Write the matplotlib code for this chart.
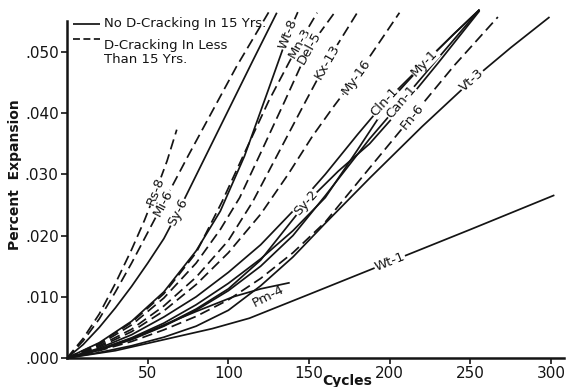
import numpy as np
import matplotlib
matplotlib.use("Agg")
import matplotlib.pyplot as plt
from matplotlib.lines import Line2D

# Expansion (%) versus freeze-thaw cycles for each aggregate source
rs8_x = [0, 10, 20, 30, 40, 48, 55, 62, 68]
rs8_y = [0, 0.0032, 0.0072, 0.0122, 0.0177, 0.0225, 0.0272, 0.0322, 0.0373]

mi6_x = [0, 10, 20, 30, 40, 50, 60, 75, 90, 105, 125]
mi6_y = [0, 0.0028, 0.0064, 0.0108, 0.0155, 0.0205, 0.0255, 0.0330, 0.0403, 0.0476, 0.0565]

sy6_x = [0, 10, 20, 30, 40, 50, 60, 70, 85, 100, 115, 130]
sy6_y = [0, 0.0022, 0.0050, 0.0082, 0.0117, 0.0155, 0.0195, 0.0245, 0.0325, 0.0405, 0.0485, 0.0564]

wt8_x = [0, 20, 40, 60, 80, 95, 110, 125, 137, 143]
wt8_y = [0, 0.0025, 0.0060, 0.0108, 0.0175, 0.0240, 0.0330, 0.0440, 0.0529, 0.0565]

mn3_x = [0, 20, 40, 60, 80, 96, 110, 125, 144, 155]
mn3_y = [0, 0.0024, 0.0058, 0.0105, 0.0172, 0.0255, 0.0335, 0.0420, 0.0515, 0.0564]

del5_x = [0, 20, 40, 60, 80, 95, 107, 120, 135, 150, 166]
del5_y = [0, 0.0022, 0.0054, 0.0098, 0.0155, 0.0210, 0.0262, 0.0335, 0.0420, 0.0507, 0.0565]

kx13_x = [0, 20, 40, 60, 80, 100, 115, 132, 148, 161, 181]
kx13_y = [0, 0.0020, 0.0047, 0.0085, 0.0132, 0.0192, 0.0255, 0.0340, 0.0420, 0.0484, 0.0569]

my16_x = [0, 20, 40, 60, 80, 100, 120, 137, 152, 165, 179, 206]
my16_y = [0, 0.0018, 0.0043, 0.0077, 0.0120, 0.0172, 0.0235, 0.0300, 0.0362, 0.0410, 0.0459, 0.0564]

cln1_x = [0, 20, 40, 60, 80, 100, 120, 140, 160, 180, 197, 221.5, 240, 255.6]
cln1_y = [0, 0.0016, 0.0038, 0.0067, 0.0100, 0.0140, 0.0185, 0.0240, 0.0300, 0.0365, 0.0418, 0.0482, 0.0530, 0.0569]

my1_x = [0, 20, 40, 60, 80, 100, 120, 140, 160, 180, 200, 221.5, 240, 255.6]
my1_y = [0, 0.0014, 0.0033, 0.0057, 0.0087, 0.0122, 0.0162, 0.0208, 0.0262, 0.0340, 0.0420, 0.0482, 0.0530, 0.0569]

sy2_x = [0, 20, 40, 60, 80, 100, 120, 148, 168, 187.5, 207, 230, 255.6]
sy2_y = [0, 0.0013, 0.0031, 0.0053, 0.0080, 0.0113, 0.0160, 0.0253, 0.0305, 0.0350, 0.0408, 0.0482, 0.0567]

can1_x = [0, 20, 40, 60, 80, 100, 120, 140, 160, 187.5, 207, 230, 255.6]
can1_y = [0, 0.0013, 0.0030, 0.0052, 0.0078, 0.0110, 0.0150, 0.0200, 0.0265, 0.0358, 0.0418, 0.0490, 0.0569]

fn6_x = [0, 20, 40, 60, 80, 100, 120, 140, 160, 188, 214, 240, 267]
fn6_y = [0, 0.0012, 0.0027, 0.0046, 0.0068, 0.0095, 0.0130, 0.0172, 0.0222, 0.0312, 0.0395, 0.0478, 0.0557]

vt3_x = [0, 20, 40, 60, 80, 100, 120, 140, 160, 188, 220, 251, 275, 299]
vt3_y = [0, 0.0009, 0.0020, 0.0034, 0.0052, 0.0078, 0.0118, 0.0165, 0.0220, 0.0295, 0.0378, 0.0454, 0.0507, 0.0557]

pm4_x = [0, 20, 40, 60, 80, 103, 120, 138]
pm4_y = [0, 0.0014, 0.0032, 0.0054, 0.0076, 0.0100, 0.0113, 0.0123]

wt1_x = [0, 30, 60, 90, 113, 150, 200, 250, 302]
wt1_y = [0, 0.0012, 0.0030, 0.0048, 0.0065, 0.0104, 0.0157, 0.0210, 0.0266]

x_ticks = [50, 100, 150, 200, 250, 300]
x_tick_labels = ["50", "100", "150", "200", "250", "300"]
y_ticks = [0.000, 0.010, 0.020, 0.030, 0.040, 0.050]
y_tick_labels = [".000", ".010", ".020", ".030", ".040", ".050"]

legend_solid = "No D-Cracking In 15 Yrs."
legend_dashed = "D-Cracking In Less\nThan 15 Yrs."

INK = "#141414"
plt.rcParams["font.family"] = ["DejaVu Sans"]

fig = plt.figure(figsize=(5.69, 3.87), dpi=100)
ax = fig.add_axes([0.1178, 0.0749, 0.8735, 0.9096])
ax.set_xlim(0, 308)
ax.set_ylim(0, 0.0575)

solid = dict(color=INK, lw=1.25, ls="-", solid_capstyle="butt")
dashed = dict(color=INK, lw=1.25, ls=(0, (6, 3)), dash_capstyle="butt")

# (name, cycles, expansion, style, label position or None)
series = [
    ("Rs-8", rs8_x, rs8_y, dashed, (55, 0.0272)),
    ("Mi-6", mi6_x, mi6_y, dashed, (59.4, 0.0253)),
    ("Sy-6", sy6_x, sy6_y, solid, (68.7, 0.0238)),
    ("Wt-8", wt8_x, wt8_y, solid, (137, 0.0529)),
    ("Mn-3", mn3_x, mn3_y, dashed, (144, 0.0515)),
    ("Del-5", del5_x, del5_y, dashed, (150, 0.0507)),
    ("Kx-13", kx13_x, kx13_y, dashed, (161, 0.0484)),
    ("My-16", my16_x, my16_y, dashed, (179, 0.0459)),
    ("Cln-1", cln1_x, cln1_y, solid, (197, 0.0418)),
    ("My-1", my1_x, my1_y, solid, (221.5, 0.0482)),
    ("Sy-2", sy2_x, sy2_y, solid, (148, 0.0253)),
    ("Can-1", can1_x, can1_y, solid, (207, 0.0418)),
    ("Fn-6", fn6_x, fn6_y, dashed, (214, 0.0395)),
    ("Vt-3", vt3_x, vt3_y, solid, (251, 0.0454)),
    ("Pm-4", pm4_x, pm4_y, solid, None),
    ("Wt-1", wt1_x, wt1_y, solid, (200, 0.0157)),
]

for name, xs, ys, style, _ in series:
    ax.plot(xs, ys, **style, zorder=2)


def slope_angle(xs, ys, x0, half=6.0):
    xa, xb = max(x0 - half, xs[0]), min(x0 + half, xs[-1])
    p0 = ax.transData.transform((xa, np.interp(xa, xs, ys)))
    p1 = ax.transData.transform((xb, np.interp(xb, xs, ys)))
    return np.degrees(np.arctan2(p1[1] - p0[1], p1[0] - p0[0]))


label_box = dict(fc="white", ec="none", pad=0.4)
for name, xs, ys, style, pos in series:
    if pos is None:
        continue
    ang = slope_angle(xs, ys, pos[0])
    ax.text(pos[0], pos[1], name, rotation=ang, rotation_mode="anchor",
            ha="center", va="center", fontsize=9.5, color=INK,
            bbox=label_box, zorder=3)

# Pm-4 is labelled just beneath the end of its curve
ax.text(125, 0.0101, "Pm-4", rotation=27, rotation_mode="anchor",
        ha="center", va="center", fontsize=9.5, color=INK, zorder=3)

# Axes styling
for side in ("top", "right"):
    ax.spines[side].set_visible(False)
ax.spines["left"].set_bounds(0, 0.055)
for side in ("left", "bottom"):
    ax.spines[side].set_linewidth(1.8)
    ax.spines[side].set_color(INK)

ax.set_xticks(x_ticks)
ax.set_xticklabels(x_tick_labels, fontsize=11, color=INK)
ax.set_yticks(y_ticks)
ax.set_yticklabels(y_tick_labels, fontsize=11, color=INK)
ax.tick_params(axis="both", direction="out", length=4, width=1.2, colors=INK, pad=2)

ax.set_xlabel("Cycles", fontsize=10, fontweight="bold", color=INK)
ax.xaxis.set_label_coords(0.563, -0.045)
ax.set_ylabel("Percent  Expansion", fontsize=10, fontweight="bold", color=INK)
ax.yaxis.set_label_coords(-0.09, 0.52)

# Key in the upper-left corner
ax.add_line(Line2D([0.012, 0.066], [0.949, 0.949], transform=ax.transAxes, **solid))
ax.add_line(Line2D([0.012, 0.066], [0.906, 0.906], transform=ax.transAxes,
                   color=INK, lw=1.25, ls=(0, (4, 2))))
ax.text(0.074, 0.949, legend_solid, transform=ax.transAxes, fontsize=9.5,
        color=INK, va="center", ha="left")
ax.text(0.074, 0.906, legend_dashed, transform=ax.transAxes, fontsize=9.5,
        color=INK, va="top", ha="left", linespacing=1.1)

fig.savefig("out.png", dpi=100, facecolor="white")
